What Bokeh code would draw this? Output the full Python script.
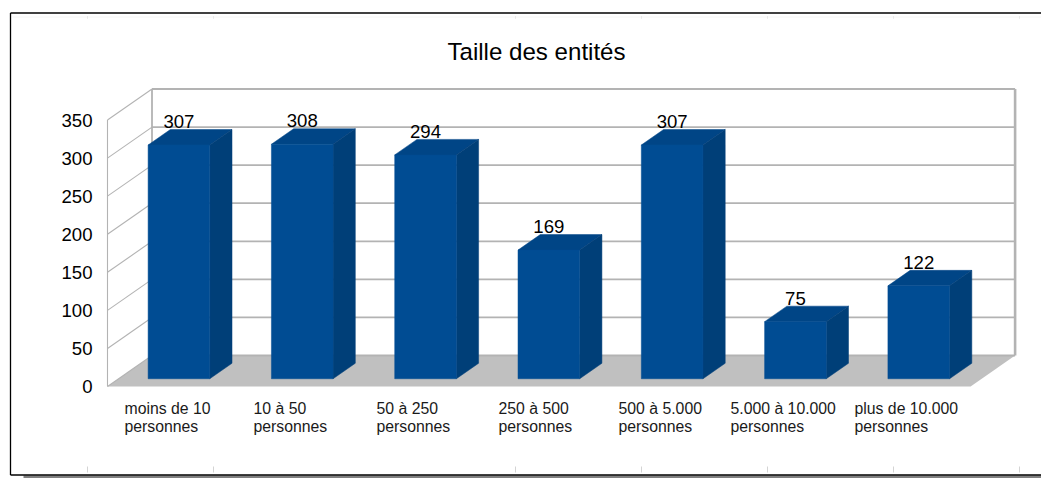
from bokeh.core.properties import value
from bokeh.embed import file_html
from bokeh.models import ColumnDataSource, FixedTicker, LinearAxis, Range1d
from bokeh.plotting import figure
from bokeh.resources import INLINE

title_text = "Taille des entités"
categories = [
    "moins de 10\npersonnes", "10 à 50\npersonnes", "50 à 250\npersonnes",
    "250 à 500\npersonnes", "500 à 5.000\npersonnes",
    "5.000 à 10.000\npersonnes", "plus de 10.000\npersonnes",
]
counts = [307, 308, 294, 169, 307, 75, 122]
y_ticks = [0, 50, 100, 150, 200, 250, 300, 350]

# --- layout / style (page pixels) ---
W, H = 1041, 478
PAGE = 0
X0, SLOT = 107.0, 123.3        # left edge of the floor, category width
Y0, UNIT = 386.0, 0.7614       # pixel of value 0, pixels per unit
DEPTH_PX = (44.5, 31.0)        # oblique depth of the whole chart
BAR_W = 0.5
DX = DEPTH_PX[0] / SLOT        # depth in category units
DY = DEPTH_PX[1] / UNIT        # depth in value units
YMAX = 350
NCAT = len(categories)
GRID = "#b3b3b3"
FLOOR = "#c0c0c0"
FRONT, TOP, SIDE = "#004c93", "#004586", "#003f78"
FONT = value("Liberation Sans")
label_left_px = [124, 253, 376, 498, 618, 730, 854]
mark_x_px = [87, 213, 515, 641, 767, 893, 1019]

x_range = Range1d((PAGE - X0) / SLOT, (PAGE + W - X0) / SLOT)
y_range = Range1d((Y0 - (PAGE + H)) / UNIT, (Y0 - PAGE) / UNIT)

p = figure(width=W, height=H, x_range=x_range, y_range=y_range,
           output_backend="svg", toolbar_location=None, min_border=0,
           x_axis_type=None, y_axis_type=None, outline_line_color=None,
           background_fill_color="white", border_fill_color="white")
p.grid.visible = False
# page-pixel coordinate system for the sheet decoration and free text
p.extra_x_ranges["page"] = Range1d(PAGE, PAGE + W)
p.extra_y_ranges["page"] = Range1d(PAGE + H, PAGE)
pg = dict(x_range_name="page", y_range_name="page")

# sheet: shadow, faint rulers, frame
p.quad(left=[23], right=[PAGE + W], top=[475], bottom=[478], fill_color="#808080", line_color=None, **pg)
for x in mark_x_px:
    p.segment([x], [466], [x], [472], line_color="#d4d4d4", line_width=1, **pg)
    p.segment([x], [15.5], [x], [18], line_color="#dddddd", line_width=1, **pg)
p.segment([12], [16.5], [PAGE + W], [16.5], line_color="#f6f6f6", line_width=1, **pg)
p.segment([10, 10], [12.5, 474.5], [PAGE + W, PAGE + W], [12.5, 474.5], line_color="black", line_width=1.3, **pg)
p.segment([10], [12.5], [10], [474.5], line_color="black", line_width=1.3, **pg)

# floor
p.patch([0, NCAT, NCAT + DX, DX], [0, 0, DY, DY], fill_color=FLOOR, line_color=None)

# walls: gridlines on side wall and back wall
for t in y_ticks:
    p.line([0, DX], [t, t + DY], line_color=GRID, line_width=1.1)
    p.line([DX, NCAT + DX], [t + DY, t + DY], line_color=GRID, line_width=1.8)
p.line([0, 0], [0, YMAX], line_color=GRID, line_width=1.1)
p.line([DX, DX], [DY, YMAX + DY], line_color=GRID, line_width=1.8)
p.line([NCAT + DX, NCAT + DX], [DY, YMAX + DY], line_color=GRID, line_width=2.6)

# bars: front, top and side faces built from the data
fx0 = [i + 0.5 - BAR_W / 2 + 0.22 * DX for i in range(NCAT)]
fx1 = [x + BAR_W for x in fx0]
by = 0.25 * DY
d_x, d_y = 0.5 * DX, 0.5 * DY
p.patches([[a, b, b + d_x, a + d_x] for a, b in zip(fx0, fx1)],
          [[by + v, by + v, by + v + d_y, by + v + d_y] for v in counts],
          fill_color=TOP, line_color=TOP, line_width=0.5)
p.patches([[b, b + d_x, b + d_x, b] for b in fx1],
          [[by, by + d_y, by + v + d_y, by + v] for v in counts],
          fill_color=SIDE, line_color=SIDE, line_width=0.5)
p.quad(left=fx0, right=fx1, bottom=[by] * NCAT, top=[by + v for v in counts],
       fill_color=FRONT, line_color=FRONT, line_width=0.5)

# value labels
src = ColumnDataSource(dict(
    x=[a + BAR_W / 2 for a in fx0],
    y=[by + v + d_y for v in counts],
    t=[str(v) for v in counts]))
p.text("x", "y", text="t", source=src, text_align="center", text_baseline="alphabetic",
       text_font=FONT, text_font_size="18.6px", text_color="black", y_offset=-8)

# y axis
ax = LinearAxis(fixed_location=0, ticker=FixedTicker(ticks=y_ticks),
                axis_line_color=None, major_tick_line_color=None, minor_tick_line_color=None,
                major_label_text_font="Liberation Sans", major_label_text_font_size="18.6px",
                major_label_text_color="black", major_label_standoff=9)
p.add_layout(ax, "left")

# category labels
p.text(label_left_px, [399] * NCAT, text=categories, text_align="left", text_baseline="top",
       text_font=FONT, text_font_size="15.8px", text_color="#1a1a1a", text_line_height=1.1, **pg)

# title
p.text([536], [51], text=[title_text], text_align="center", text_baseline="middle",
       text_font=FONT, text_font_size="24.1px", text_color="black", **pg)

open("out.html", "w").write(file_html(p, INLINE))
